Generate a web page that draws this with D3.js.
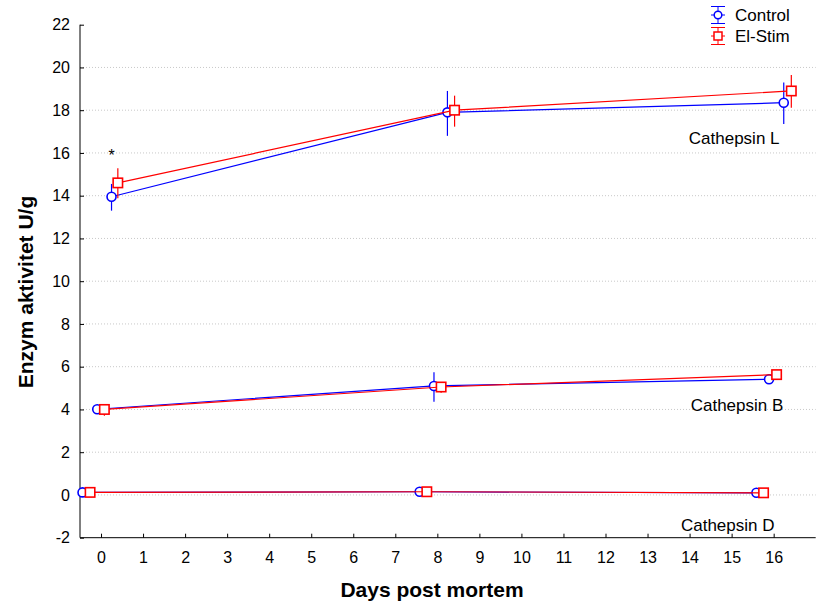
<!DOCTYPE html>
<html><head><meta charset="utf-8">
<script src="https://cdn.jsdelivr.net/npm/d3@7"></script>
<style>body{margin:0;background:#fff;} text{font-family:"Liberation Sans",Arial,sans-serif;}</style>
</head><body>
<svg id="c" width="822" height="605"></svg>
<script>
// ---- data ----
const xTicks = [0,1,2,3,4,5,6,7,8,9,10,11,12,13,14,15,16];
const yTicks = [-2,0,2,4,6,8,10,12,14,16,18,20,22];
const seriesNames = ["Control","El-Stim"];

// Cathepsin L
const lControlX  = [0.25, 8.24, 16.24];
const lControlY  = [13.95, 17.9, 18.35];
const lControlLo = [13.3, 16.8, 17.35];
const lControlHi = [14.55, 18.9, 19.3];
const lStimX  = [0.40, 8.41, 16.42];
const lStimY  = [14.6, 18.0, 18.9];
const lStimLo = [13.88, 17.23, 18.12];
const lStimHi = [15.28, 18.68, 19.65];
// Cathepsin B
const bControlX  = [-0.09, 7.92, 15.89];
const bControlY  = [4.01, 5.1, 5.41];
const bControlLo = [3.88, 4.36, 5.3];
const bControlHi = [4.14, 5.74, 5.52];
const bStimX  = [0.08, 8.09, 16.07];
const bStimY  = [4.0, 5.05, 5.63];
const bStimLo = [3.7, 4.78, 5.42];
const bStimHi = [4.25, 5.25, 5.85];
// Cathepsin D
const dControlX  = [-0.44, 7.58, 15.59];
const dControlY  = [0.12, 0.15, 0.1];
const dControlLo = [0.08, 0.11, 0.06];
const dControlHi = [0.16, 0.19, 0.14];
const dStimX  = [-0.26, 7.75, 15.76];
const dStimY  = [0.12, 0.15, 0.1];
const dStimLo = [0.08, 0.11, 0.06];
const dStimHi = [0.16, 0.19, 0.14];

const enzymeLabels = ["Cathepsin L","Cathepsin B","Cathepsin D"];
const labelX = [16.14, 16.23, 16.02];
const labelY = [16.42, 3.93, -1.69];
const starX = 0.25, starY = 15.95;

// ---- layout ----
const svg = d3.select("#c");
const m = {l:80, t:24.7, r:815.7, b:537.7};
const x = d3.scaleLinear().domain([-0.5,17]).range([m.l, m.r]);
const y = d3.scaleLinear().domain([-2,22]).range([m.b, m.t]);
const blue = "#0000ff", red = "#ff0000";

// grid
svg.append("g").selectAll("line").data(yTicks.filter(v=>v>-2 && v<22)).join("line")
  .attr("x1", m.l).attr("x2", m.r).attr("y1", d=>y(d)).attr("y2", d=>y(d))
  .attr("stroke", "#c8c8c8").attr("stroke-width", 1).attr("stroke-dasharray","1,2");

// axes
const yAxis = d3.axisLeft(y).tickValues(yTicks).tickSize(-4).tickPadding(10).tickFormat(d=>String(d));
const gy = svg.append("g").attr("transform",`translate(${m.l},0)`).call(yAxis);
const xAxis = d3.axisBottom(x).tickValues(xTicks).tickSize(-4).tickPadding(14).tickFormat(d=>String(d));
const gx = svg.append("g").attr("transform",`translate(0,${m.b})`).call(xAxis);
[gx,gy].forEach(g=>{
  g.select(".domain").attr("stroke","#000").attr("d", g===gx ? `M${m.l},0H${m.r}` : `M0,${m.t}V${m.b}`);
  g.selectAll(".tick line").attr("stroke","#000");
  g.selectAll(".tick text").attr("font-size","16px").attr("fill","#000").attr("font-family","Liberation Sans, Arial, sans-serif");
});

// titles
svg.append("text").attr("x", 432).attr("y", 597).attr("text-anchor","middle")
  .attr("font-size","21px").attr("font-weight","bold").text("Days post mortem");
svg.append("text").attr("transform","translate(32.5,292) rotate(-90)").attr("text-anchor","middle")
  .attr("font-size","21px").attr("font-weight","bold").text("Enzym aktivitet U/g");

// series
const groups = [
  [[lControlX,lControlY,lControlLo,lControlHi],[lStimX,lStimY,lStimLo,lStimHi]],
  [[bControlX,bControlY,bControlLo,bControlHi],[bStimX,bStimY,bStimLo,bStimHi]],
  [[dControlX,dControlY,dControlLo,dControlHi],[dStimX,dStimY,dStimLo,dStimHi]]
];
const line = d3.line().x(d=>x(d[0])).y(d=>y(d[1]));
groups.forEach(g=>{
  g.forEach((s,si)=>{
    const col = si===0?blue:red;
    const pts = s[0].map((xv,i)=>[xv, s[1][i], s[2][i], s[3][i]]);
    const gg = svg.append("g");
    gg.append("path").attr("d", line(pts)).attr("fill","none").attr("stroke",col).attr("stroke-width",1.2);
    gg.selectAll("line.err").data(pts).join("line").attr("class","err")
      .attr("x1",d=>x(d[0])).attr("x2",d=>x(d[0])).attr("y1",d=>y(d[2])).attr("y2",d=>y(d[3]))
      .attr("stroke",col).attr("stroke-width",1.2);
    if(si===0){
      gg.selectAll("circle").data(pts).join("circle").attr("cx",d=>x(d[0])).attr("cy",d=>y(d[1])).attr("r",4.5)
        .attr("fill","#fff").attr("stroke",col).attr("stroke-width",1.6);
    } else {
      gg.selectAll("rect").data(pts).join("rect").attr("x",d=>x(d[0])-4.7).attr("y",d=>y(d[1])-4.7)
        .attr("width",9.4).attr("height",9.4).attr("fill","#fff").attr("stroke",col).attr("stroke-width",1.6);
    }
  });
});

// enzyme labels
svg.append("g").selectAll("text").data(enzymeLabels).join("text")
  .attr("x",(d,i)=>x(labelX[i])).attr("y",(d,i)=>y(labelY[i])).attr("text-anchor","end")
  .attr("font-size","17px").attr("fill","#000").text(d=>d);
svg.append("text").attr("x",x(starX)).attr("y",y(starY)+7).attr("text-anchor","middle")
  .attr("font-size","16px").text("*");

// legend
const lg = svg.append("g");
seriesNames.forEach((n,i)=>{
  const cy = 15 + i*21, cx = 718, col = i===0?blue:red;
  const g = lg.append("g");
  g.append("line").attr("x1",cx-7).attr("x2",cx+7).attr("y1",cy-8.5).attr("y2",cy-8.5).attr("stroke",col);
  g.append("line").attr("x1",cx-7).attr("x2",cx+7).attr("y1",cy+8.5).attr("y2",cy+8.5).attr("stroke",col);
  g.append("line").attr("x1",cx).attr("x2",cx).attr("y1",cy-8.5).attr("y2",cy+8.5).attr("stroke",col);
  g.append("line").attr("x1",cx-7).attr("x2",cx+7).attr("y1",cy).attr("y2",cy).attr("stroke",col);
  if(i===0) g.append("circle").attr("cx",cx).attr("cy",cy).attr("r",3.8).attr("fill","#fff").attr("stroke",col).attr("stroke-width",1.5);
  else g.append("rect").attr("x",cx-4).attr("y",cy-4).attr("width",8).attr("height",8).attr("fill","#fff").attr("stroke",col).attr("stroke-width",1.5);
  g.append("text").attr("x",735).attr("y",cy+6).attr("font-size","17px").text(n);
});
</script>
</body></html>
